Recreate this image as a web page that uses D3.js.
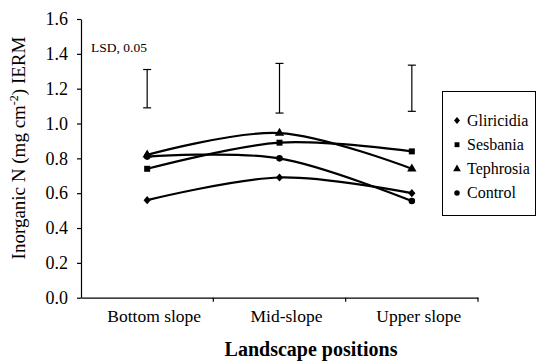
<!DOCTYPE html>
<html>
<head>
<meta charset="utf-8">
<script src="https://cdn.jsdelivr.net/npm/d3@7/dist/d3.min.js"></script>
<style>
  html, body { margin: 0; padding: 0; background: #fff; }
  svg { display: block; }
  svg text { font-family: "Liberation Serif", "Times New Roman", Times, "DejaVu Serif", serif; fill: #000; }
</style>
</head>
<body>
<svg id="chart" width="536" height="361"></svg>
<script>
// Landscape positions on the x axis
const positions = ["Bottom slope", "Mid-slope", "Upper slope"];

// Inorganic N (mg cm-2) measured with IERM, one array per treatment
const gliricidia = [0.56, 0.69, 0.60];
const sesbania   = [0.74, 0.89, 0.84];
const tephrosia  = [0.82, 0.945, 0.74];
const control    = [0.81, 0.80, 0.555];

// LSD (0.05) bars: lower and upper ends per position
const lsdLow  = [1.09, 1.06, 1.07];
const lsdHigh = [1.31, 1.345, 1.335];

const yTicks = [0, 0.2, 0.4, 0.6, 0.8, 1.0, 1.2, 1.4, 1.6];

const seriesNames = ["Gliricidia", "Sesbania", "Tephrosia", "Control"];
const seriesValues = [gliricidia, sesbania, tephrosia, control];

// A squat diamond marker (a little taller than wide)
const diamond = {
  draw(ctx, size) {
    const h = Math.sqrt(size) * 0.62, w = h * 0.88;
    ctx.moveTo(0, -h); ctx.lineTo(w, 0); ctx.lineTo(0, h); ctx.lineTo(-w, 0); ctx.closePath();
  }
};
const seriesSymbols = [diamond, d3.symbolSquare, d3.symbolTriangle, d3.symbolCircle];
const markerSize = [44, 36, 38, 34];
const legendSize = [30, 24, 26, 24];

const svg = d3.select("#chart");
const plotLeft = 81, plotRight = 478, plotTop = 19, plotBottom = 297.7;

const x = d3.scaleBand().domain(positions).range([plotLeft, plotRight]).padding(0);
const y = d3.scaleLinear().domain([0, 1.6]).range([plotBottom, plotTop]);
const cx = d => x(d) + x.bandwidth() / 2;

// Y axis
const yAxis = svg.append("g")
  .attr("transform", `translate(${plotLeft},0)`)
  .call(d3.axisLeft(y).tickValues(yTicks).tickFormat(d3.format(".1f")).tickSize(4).tickSizeOuter(0).tickPadding(9));
yAxis.attr("font-family", null);
yAxis.select(".domain").attr("stroke", "#000").attr("stroke-width", 1.2);
yAxis.selectAll(".tick line").attr("stroke", "#000").attr("stroke-width", 1.2);
yAxis.selectAll("text").attr("font-size", 18).attr("fill", "#000");

// X axis: labels under each band, tick marks on band edges
const xAxis = svg.append("g")
  .attr("transform", `translate(0,${plotBottom})`)
  .call(d3.axisBottom(x).tickSize(0).tickPadding(12));
xAxis.attr("font-family", null);
xAxis.select(".domain").attr("stroke", "#000").attr("stroke-width", 1.2);
xAxis.selectAll("text").attr("font-size", 17.5).attr("fill", "#000").attr("dx", 7);
svg.append("g").selectAll("line")
  .data(positions)
  .join("line")
  .attr("x1", d => x(d) + x.bandwidth()).attr("x2", d => x(d) + x.bandwidth())
  .attr("y1", plotBottom).attr("y2", plotBottom + 4)
  .attr("stroke", "#000").attr("stroke-width", 1.2);

// Axis titles
svg.append("text")
  .attr("transform", `translate(25,148) rotate(-90)`)
  .attr("text-anchor", "middle")
  .attr("font-size", 19)
  .html('Inorganic N (mg cm<tspan dy="-7" font-size="12">-2</tspan><tspan dy="7">) IERM</tspan>');

svg.append("text")
  .attr("x", 311).attr("y", 356)
  .attr("text-anchor", "middle")
  .attr("font-size", 20).attr("font-weight", "bold")
  .text("Landscape positions");

// LSD bars
svg.append("text").attr("x", 91).attr("y", 52).attr("font-size", 13.5).text("LSD, 0.05");
const lsd = svg.append("g").attr("stroke", "#000").attr("stroke-width", 1.2);
positions.forEach((p, i) => {
  lsd.append("line").attr("x1", cx(p)).attr("x2", cx(p)).attr("y1", y(lsdLow[i])).attr("y2", y(lsdHigh[i]));
  [lsdLow[i], lsdHigh[i]].forEach(v => {
    lsd.append("line").attr("x1", cx(p) - 4).attr("x2", cx(p) + 4).attr("y1", y(v)).attr("y2", y(v));
  });
});

// Smoothed treatment lines with markers
const line = d3.line()
  .x((d, i) => cx(positions[i]))
  .y(d => y(d))
  .curve(d3.curveCardinal.tension(0));

seriesValues.forEach((vals, s) => {
  svg.append("path")
    .attr("d", line(vals))
    .attr("fill", "none").attr("stroke", "#000").attr("stroke-width", 2.2);
  svg.append("g").selectAll("path")
    .data(vals)
    .join("path")
    .attr("transform", (d, i) => `translate(${cx(positions[i])},${y(d)})`)
    .attr("d", d3.symbol().type(seriesSymbols[s]).size(markerSize[s]))
    .attr("fill", "#000");
});

// Legend
const lg = svg.append("g");
lg.append("rect").attr("x", 442.5).attr("y", 91.5).attr("width", 93).attr("height", 124)
  .attr("fill", "#fff").attr("stroke", "#000").attr("stroke-width", 1);
seriesNames.forEach((n, i) => {
  const yy = 120.5 + i * 24.2;
  lg.append("path").attr("transform", `translate(457,${yy})`)
    .attr("d", d3.symbol().type(seriesSymbols[i]).size(legendSize[i])).attr("fill", "#000");
  lg.append("text").attr("x", 467).attr("y", yy + 5).attr("font-size", 16).text(n);
});
</script>
</body>
</html>
